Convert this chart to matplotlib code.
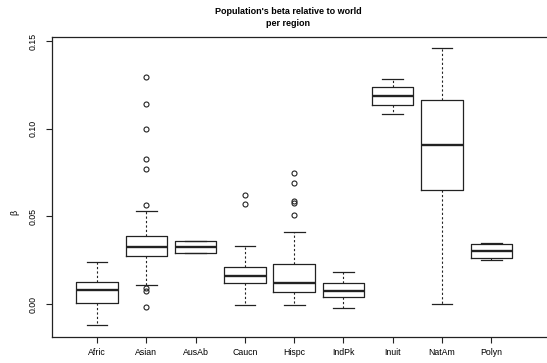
import matplotlib
matplotlib.use('Agg')
import matplotlib.pyplot as plt

plt.rcParams['font.family'] = ['Liberation Sans', 'DejaVu Sans']

regions = ['Afric', 'Asian', 'AusAb', 'Caucn', 'Hispc', 'IndPk', 'Inuit', 'NatAm', 'Polyn']
whis_lo = [-0.012, 0.0107, 0.0289, -0.0006, -0.0006, -0.0021, 0.1084, 0.0002, 0.0249]
q1      = [0.0006, 0.0272, 0.0289, 0.0120, 0.0070, 0.0040, 0.1135, 0.0652, 0.0260]
median  = [0.0080, 0.0327, 0.0325, 0.0162, 0.0122, 0.0074, 0.1187, 0.0907, 0.0300]
q3      = [0.0125, 0.0390, 0.0360, 0.0213, 0.0228, 0.0118, 0.1236, 0.1164, 0.0340]
whis_hi = [0.0240, 0.0530, 0.0360, 0.0330, 0.0413, 0.0183, 0.1285, 0.1459, 0.0350]
outliers = [
    [],
    [0.1295, 0.1140, 0.1000, 0.0830, 0.0770, 0.0563, 0.0093, 0.0076, -0.0019],
    [],
    [0.0620, 0.0570],
    [0.0746, 0.0690, 0.0586, 0.0578, 0.0506],
    [],
    [],
    [],
    [],
]

stats = []
for i in range(len(regions)):
    stats.append({'label': regions[i], 'whislo': whis_lo[i], 'q1': q1[i], 'med': median[i],
                  'q3': q3[i], 'whishi': whis_hi[i], 'fliers': outliers[i]})

fig = plt.figure(figsize=(5.47, 3.63), dpi=100)
ax = fig.add_axes([52 / 547, 26 / 363, 1 - 52 / 547, 300 / 363])

ink = '#222222'
ax.bxp(stats, widths=0.84, showfliers=True,
       boxprops=dict(color=ink, linewidth=0.9),
       medianprops=dict(color=ink, linewidth=1.7),
       whiskerprops=dict(color=ink, linewidth=0.8, linestyle=(0, (2, 2))),
       capprops=dict(color=ink, linewidth=0.9),
       capwidths=0.42,
       flierprops=dict(marker='o', markersize=3.6, markerfacecolor='none',
                       markeredgecolor=ink, markeredgewidth=0.8))

ax.set_xlim(0.087, 10.13)
ax.set_ylim(-0.0188, 0.1523)
ax.set_yticks([0.0, 0.05, 0.10, 0.15])
ax.set_yticklabels(['0.00', '0.05', '0.10', '0.15'], rotation=90, va='center', fontsize=6.3)
ax.set_xticklabels(regions, fontsize=6.3)
ax.tick_params(direction='out', length=4, width=0.8, color=ink)
ax.tick_params(axis='x', pad=4)
ax.tick_params(axis='y', pad=6)
for side in ['left', 'bottom', 'top']:
    ax.spines[side].set_color(ink)
    ax.spines[side].set_linewidth(0.9)
ax.spines['right'].set_visible(False)

fig.text(15 / 547, 1 - 212 / 363, 'β', fontsize=6.3, rotation=90, ha='center', va='center')
fig.text(288 / 547, 1 - 11 / 363, "Population's beta relative to world", fontsize=6.5,
         fontweight='bold', ha='center', va='center')
fig.text(288 / 547, 1 - 24 / 363, 'per region', fontsize=6.5,
         fontweight='bold', ha='center', va='center')

fig.savefig('out.png', dpi=100)
